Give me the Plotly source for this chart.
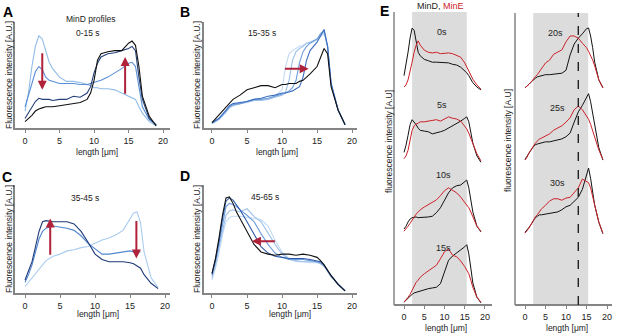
import plotly.graph_objects as go

W, H = 617, 334
FONT = "Liberation Sans, Arial, sans-serif"

# ---------------- data ----------------
X_A = [0, 0.5, 1, 1.5, 2, 2.5, 3, 3.5, 4, 5, 6, 7, 8, 9, 9.5, 10, 10.5, 11, 12, 13, 14, 15, 15.5, 16, 16.5, 17, 18, 19]
A_LIGHT = [16, 33, 58, 77, 87, 84, 73, 62, 56, 48, 44, 44, 43, 41, 40, 38, 38, 37, 37, 36, 33, 30, 29, 27, 20, 14, 6, 2]
A_MID = [20, 30, 42, 53, 58, 55, 48, 45, 44, 42, 42, 42, 41, 41, 42, 43, 44, 45, 48, 52, 56, 61, 62, 58, 39, 20, 8, 3]
A_NAVY = [9, 14, 20, 25, 28, 27, 27, 27, 26, 27, 27, 30, 29, 33, 39, 52, 61, 67, 70, 71, 73, 75, 77, 73, 48, 27, 9, 3]
A_BLACK = [6, 9, 12, 16, 18, 19, 20, 20, 20, 21, 22, 23, 24, 27, 33, 45, 64, 70, 72, 73, 73, 80, 82, 78, 58, 30, 11, 2]

X_B = [0, 1, 2, 2.5, 3, 4, 5, 6, 7, 8, 9, 10, 10.5, 11, 11.5, 12, 12.5, 13, 13.5, 14, 15, 15.5, 16, 16.5, 17, 18, 19]
B_1 = [4, 9, 16, 20, 22, 23, 25, 27, 27, 28, 30, 36, 58, 70, 73, 75, 77, 78, 80, 80, 83, 86, 89, 77, 42, 17, 3]
B_2 = [4, 8, 15, 19, 21, 23, 24, 26, 26, 27, 29, 31, 34, 45, 64, 72, 75, 77, 80, 81, 84, 87, 91, 77, 42, 17, 3]
B_3 = [5, 9, 16, 20, 22, 23, 25, 27, 27, 28, 30, 32, 33, 35, 38, 45, 62, 72, 77, 80, 84, 89, 92, 77, 42, 17, 3]
B_4 = [5, 9, 17, 21, 23, 24, 25, 27, 28, 30, 31, 33, 33, 34, 35, 37, 39, 48, 64, 73, 81, 87, 93, 77, 42, 17, 3]
B_BLACK = [5, 12, 19, 23, 27, 31, 36, 38, 40, 40, 38, 41, 41, 42, 42, 42, 44, 45, 48, 51, 58, 66, 75, 70, 39, 17, 3]

X_C = [0, 0.5, 1, 1.5, 2, 2.5, 3, 4, 5, 6, 7, 8, 9, 10, 11, 12, 13, 14, 15, 15.5, 16, 16.5, 17, 18, 19]
C_LIGHT = [6, 10, 14, 19, 23, 27, 30, 34, 36, 39, 40, 42, 43, 46, 49, 51, 54, 58, 69, 74, 75, 65, 38, 14, 5]
C_MID = [10, 17, 26, 38, 50, 57, 60, 62, 61, 60, 58, 53, 46, 41, 36, 36, 37, 38, 39, 38, 38, 38]
C_NAVY = [12, 20, 29, 43, 57, 66, 67, 66, 66, 66, 64, 57, 47, 36, 31, 29, 29, 29, 28, 27, 25, 23, 17, 9, 4]

X_D = [0, 0.5, 1, 1.5, 2, 2.5, 3, 3.5, 4, 5, 6, 7, 8, 9, 10, 11, 12, 13, 14, 15, 15.5, 16, 17, 18, 19]
D_1 = [12, 23, 37, 54, 66, 70, 71, 71, 71, 70, 69, 68, 62, 49, 38, 32, 29, 29, 28, 28, 27, 25, 15, 8, 2]
D_2 = [14, 26, 42, 58, 72, 76, 77, 76, 75, 78, 71, 66, 55, 45, 36, 31, 30, 29, 29, 29, 27, 25, 15, 8, 2]
D_3 = [16, 29, 46, 65, 80, 83, 82, 80, 77, 72, 66, 55, 45, 37, 33, 31, 31, 31, 30, 29, 28, 25, 16, 8, 2]
D_4 = [18, 31, 48, 69, 85, 88, 86, 82, 77, 66, 54, 43, 37, 34, 33, 32, 32, 32, 31, 30, 29, 26, 16, 8, 2]
D_BLACK = [18, 32, 51, 72, 88, 89, 83, 75, 69, 57, 45, 38, 36, 35, 36, 36, 35, 36, 35, 33, 30, 26, 16, 8, 2]

X_E = [0, 0.5, 1, 1.5, 2, 2.5, 3, 3.5, 4, 5, 6, 7, 8, 9, 10, 11, 12, 13, 14, 15, 15.5, 16, 16.5, 17, 18, 19]
E0_MIND = [23, 37, 56, 76, 90, 87, 70, 56, 51, 46, 44, 42, 42, 42, 41, 41, 39, 38, 35, 30, 27, 23, 18, 13, 7, 3]
E0_MINE = [7, 10, 17, 28, 42, 56, 66, 72, 66, 59, 56, 55, 56, 54, 55, 55, 54, 52, 49, 41, 35, 30, 24, 18, 10, 4]
E5_MIND = [15, 25, 39, 54, 61, 58, 54, 49, 46, 45, 44, 41, 42, 44, 46, 49, 52, 56, 59, 63, 65, 58, 44, 28, 10, 1]
E5_MINE = [6, 10, 18, 32, 46, 52, 55, 56, 58, 58, 59, 61, 61, 59, 62, 65, 63, 62, 59, 52, 48, 42, 35, 27, 13, 3]
E10_MIND = [7, 11, 17, 21, 23, 24, 24, 23, 23, 23, 24, 25, 30, 37, 48, 58, 65, 68, 69, 73, 76, 65, 48, 31, 11, 3]
E10_MINE = [4, 7, 11, 15, 20, 24, 28, 31, 34, 38, 41, 45, 48, 54, 61, 65, 62, 58, 52, 45, 41, 37, 31, 24, 11, 4]
E15_MIND = [4, 7, 10, 13, 15, 17, 18, 18, 20, 21, 23, 24, 25, 30, 46, 63, 69, 73, 77, 82, 85, 72, 52, 31, 11, 3]
E15_MINE = [4, 7, 11, 15, 21, 27, 32, 35, 39, 44, 48, 52, 56, 65, 75, 79, 70, 68, 62, 54, 49, 44, 35, 25, 11, 4]
E20_MIND = [3, 5, 8, 11, 14, 16, 18, 19, 19, 21, 21, 22, 23, 23, 27, 48, 63, 71, 77, 84, 85, 74, 58, 38, 14, 3]
E20_MINE = [3, 5, 8, 11, 15, 18, 21, 25, 29, 37, 41, 49, 52, 55, 66, 74, 74, 71, 64, 58, 53, 48, 41, 33, 14, 3]
E25_MIND = [5, 10, 14, 18, 22, 25, 26, 27, 27, 29, 29, 30, 32, 33, 36, 41, 56, 70, 79, 90, 95, 84, 68, 53, 21, 4]
E25_MINE = [4, 8, 14, 19, 23, 27, 30, 33, 34, 37, 40, 45, 48, 51, 56, 62, 73, 78, 73, 64, 60, 53, 44, 34, 18, 5]
E30_MIND = [5, 8, 12, 16, 21, 25, 27, 29, 29, 30, 32, 32, 33, 36, 40, 42, 47, 53, 64, 84, 93, 79, 60, 42, 19, 3]
E30_MINE = [4, 7, 11, 16, 22, 26, 29, 33, 37, 42, 48, 51, 51, 49, 52, 53, 59, 66, 78, 75, 73, 66, 55, 42, 19, 4]

E_LEFT_TIMES = ["0s", "5s", "10s", "15s"]
E_RIGHT_TIMES = ["20s", "25s", "30s"]
MINE_BAND = [2, 15.5]      # shaded region in E (µm)
DASH_X = 13                # dashed line position in E right (µm)
X_TICKS = [0, 5, 10, 15, 20]

# ---------------- helpers ----------------
def fx(px):
    return px / W

def fy(py):
    return 1 - py / H

AX_COL = "#858585"
ARROW = "#b0213a"
RED = "#cc2229"

fig = go.Figure()

def line(x, y, color, xa, ya, width=1.1):
    fig.add_trace(go.Scatter(x=x, y=y, mode="lines", xaxis=xa, yaxis=ya,
                             line=dict(color=color, width=width), showlegend=False,
                             hoverinfo="skip"))

# Panel A
for ys, c in [(A_LIGHT, "#8fbbe8"), (A_MID, "#5b8fd6"), (A_NAVY, "#23407a"), (A_BLACK, "#111111")]:
    line(X_A, ys, c, "x", "y")
# Panel B
for ys, c in [(B_1, "#c3daf3"), (B_2, "#9ec1ea"), (B_3, "#6e9edc"), (B_4, "#3f6fbf"), (B_BLACK, "#111111")]:
    line(X_B, ys, c, "x2", "y2")
# Panel C
for xs, ys, c in [(X_C, C_LIGHT, "#a9cbef"), (X_C[:len(C_MID)], C_MID, "#4f86d0"), (X_C, C_NAVY, "#1f3a78")]:
    line(xs, ys, c, "x3", "y3")
# Panel D
for ys, c in [(D_1, "#c3daf3"), (D_2, "#9ec1ea"), (D_3, "#6e9edc"), (D_4, "#2f5aa8"), (D_BLACK, "#111111")]:
    line(X_D, ys, c, "x4", "y4")

# Panel E
E_LEFT = [(E0_MIND, E0_MINE), (E5_MIND, E5_MINE), (E10_MIND, E10_MINE), (E15_MIND, E15_MINE)]
E_RIGHT = [(E20_MIND, E20_MINE), (E25_MIND, E25_MINE), (E30_MIND, E30_MINE)]
for k, (d, e) in enumerate(E_LEFT):
    ya = "y%d" % (5 + k)
    line(X_E, d, "#111111", "x5", ya, 1.0)
    line(X_E, e, RED, "x5", ya, 1.0)
for k, (d, e) in enumerate(E_RIGHT):
    ya = "y%d" % (9 + k)
    line(X_E, d, "#111111", "x6", ya, 1.0)
    line(X_E, e, RED, "x6", ya, 1.0)

# ---------------- axes ----------------
def xstyle(dom, rng, anchor, **kw):
    d = dict(domain=[fx(dom[0]), fx(dom[1])], range=rng, anchor=anchor,
             showline=True, linecolor=AX_COL, linewidth=1.5, ticks="outside",
             tickcolor=AX_COL, ticklen=3, tickwidth=1.2, tickvals=X_TICKS,
             showgrid=False, zeroline=False,
             tickfont=dict(family=FONT, size=9, color="#222"))
    d.update(kw)
    return d

def ystyle(top, bottom, anchor, show=True):
    return dict(domain=[fy(bottom), fy(top)], range=[0, 100], anchor=anchor,
                showline=show, linecolor=AX_COL, linewidth=1.5, ticks="",
                showticklabels=False, showgrid=False, zeroline=False)

layout = dict(
    width=W, height=H, margin=dict(l=0, r=0, t=0, b=0),
    paper_bgcolor="white", plot_bgcolor="rgba(0,0,0,0)",
    font=dict(family=FONT, size=9, color="#222"),
    xaxis=xstyle((15, 170), [-1.45, 21.0], "y"),
    yaxis=ystyle(22, 128, "x"),
    xaxis2=xstyle((204, 357), [-1.14, 20.7], "y2"),
    yaxis2=ystyle(22, 128, "x2"),
    xaxis3=xstyle((15, 170), [-1.43, 20.7], "y3"),
    yaxis3=ystyle(185, 293, "x3"),
    xaxis4=xstyle((204, 357), [-1.14, 20.7], "y4"),
    yaxis4=ystyle(185, 293, "x4"),
    xaxis5=xstyle((394, 492), [-2.47, 21.73], "free", position=fy(305)),
    xaxis6=xstyle((515, 612), [-2.44, 21.22], "free", position=fy(305)),
)
for k in range(4):
    bottom = 305 - 71 * (3 - k)
    layout["yaxis%d" % (5 + k)] = ystyle(bottom - 71, bottom, "x5", show=False)
for k in range(3):
    bottom = 90 + 73 * k
    layout["yaxis%d" % (9 + k)] = ystyle(bottom - 73, bottom, "x6", show=False)
fig.update_layout(**layout)

# ---------------- shapes ----------------
shapes = [
    dict(type="rect", xref="x5", yref="paper", x0=MINE_BAND[0], x1=MINE_BAND[1],
         y0=fy(305), y1=fy(12), fillcolor="#dcdcdc", line=dict(width=0), layer="below"),
    dict(type="rect", xref="x6", yref="paper", x0=MINE_BAND[0], x1=MINE_BAND[1] - 0.1,
         y0=fy(305), y1=fy(13), fillcolor="#dcdcdc", line=dict(width=0), layer="below"),
    dict(type="line", xref="paper", yref="paper", x0=fx(394), x1=fx(394),
         y0=fy(305), y1=fy(12), line=dict(color=AX_COL, width=1.5)),
    dict(type="line", xref="paper", yref="paper", x0=fx(515), x1=fx(515),
         y0=fy(305), y1=fy(13), line=dict(color=AX_COL, width=1.5)),
    dict(type="line", xref="x6", yref="paper", x0=DASH_X, x1=DASH_X,
         y0=fy(305), y1=fy(13), line=dict(color="#222", width=1.4, dash="dash")),
]
fig.update_layout(shapes=shapes)

# ---------------- annotations ----------------
ann = []

def text(px, py, s, size=9, bold=False, angle=0, color="#222"):
    ann.append(dict(x=fx(px), y=fy(py), xref="paper", yref="paper", text=("<b>%s</b>" % s) if bold else s,
                    showarrow=False, xanchor="center", yanchor="middle", textangle=angle,
                    font=dict(family=FONT, size=size, color=color)))

# panel letters
for s, px, py in [("A", 8, 12), ("B", 185, 12), ("C", 7, 177), ("D", 185, 176), ("E", 384, 11)]:
    text(px, py, s, size=14, bold=True, color="#000")

# y titles
for px, py in [(9, 75), (197, 75), (9, 239), (197, 239)]:
    text(px, py, "Fluorescence intensity [A.U.]", size=8.5, angle=-90)
text(389, 142, "fluorescence intensity [A.U]", size=8.5, angle=-90)
text(508, 141, "fluorescence intensity [A.U]", size=8.5, angle=-90)

# x titles
for px, py in [(97, 152), (277, 152), (98, 314), (290, 314), (446, 328), (567, 328)]:
    text(px, py, "length [μm]", size=8.5)

# panel captions
text(91, 19, "MinD profiles", size=8.5)
text(88, 33, "0-15 s", size=8.5)
text(262, 33, "15-35 s", size=8.5)
text(85, 198, "35-45 s", size=8.5)
text(265, 197, "45-65 s", size=8.5)
text(440, 6, "MinD, <span style='color:%s'>MinE</span>" % RED, size=9)

for s, (px, py) in zip(E_LEFT_TIMES, [(442, 32), (442, 105), (443, 175), (443, 248)]):
    text(px, py, s, size=9)
for s, (px, py) in zip(E_RIGHT_TIMES, [(555, 33), (557, 108), (557, 183)]):
    text(px, py, s, size=9)

# arrows (data coordinates)
def arrow(xa, ya, x0, y0, x1, y1):
    ann.append(dict(xref=xa, yref=ya, axref=xa, ayref=ya, x=x1, y=y1, ax=x0, ay=y0,
                    text="", showarrow=True, arrowhead=2, arrowsize=0.9, arrowwidth=2,
                    arrowcolor=ARROW))

arrow("x", "y", 2.5, 72, 2.5, 36)
arrow("x", "y", 14.5, 31, 14.5, 67)
arrow("x2", "y2", 10.2, 56, 13.8, 56)
arrow("x3", "y3", 3.6, 34, 3.6, 69)
arrow("x3", "y3", 15.9, 68, 15.9, 32)
arrow("x4", "y4", 9.2, 48, 5.7, 48)

fig.update_layout(annotations=ann)
fig.write_html("out.html", config={"displayModeBar": False},
               post_script="document.body.style.margin='0';")
